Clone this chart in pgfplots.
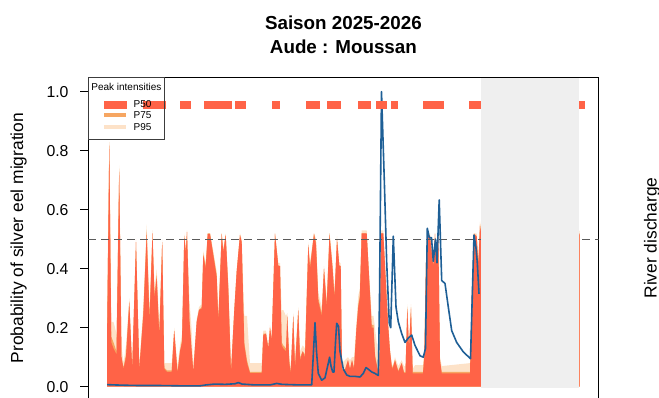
\documentclass[border=0pt]{standalone}
\usepackage{pgfplots}
\pgfplotsset{compat=1.18}
\usepackage{pgfplotstable}
\usepackage{fontspec}
\setmainfont{Liberation Sans}
\definecolor{pfifty}{RGB}{255,99,71}
\definecolor{pseventyfive}{RGB}{246,166,98}
\definecolor{pninetyfive}{RGB}{253,226,200}
\definecolor{disc}{RGB}{30,95,150}
\definecolor{greyzone}{RGB}{239,239,239}
\definecolor{legframe}{RGB}{60,60,60}

\pgfplotstableread{
x p50 p75 p95
107.2 0 0 0
107.2 0.20 0.22 0.30
109.3 0.82 0.83 0.83
111.3 0.15 0.17 0.22
113.5 0.13 0.15 0.22
116.5 0.11 0.12 0.18
119.2 0.73 0.74 0.75
121.5 0.10 0.10 0.14
123.5 0.06 0.065 0.08
126.0 0.10 0.11 0.14
129.3 0.285 0.29 0.30
132.2 0.06 0.06 0.07
136.0 0.49 0.49 0.50
139.3 0.06 0.06 0.07
143.3 0.24 0.25 0.27
146.7 0.52 0.53 0.55
149.5 0.22 0.24 0.26
152.5 0.52 0.52 0.53
154.5 0.30 0.31 0.33
156.7 0.37 0.38 0.40
159.3 0.17 0.18 0.20
162.2 0.49 0.49 0.50
164.3 0.06 0.065 0.08
167.0 0.05 0.055 0.08
171.7 0.05 0.055 0.08
174.2 0.19 0.19 0.20
177.5 0.046 0.05 0.07
180.0 0.12 0.12 0.14
182.0 0.15 0.16 0.18
184.3 0.51 0.51 0.52
185.8 0.45 0.46 0.47
187.0 0.525 0.525 0.53
189.5 0.22 0.23 0.29
191.5 0.13 0.13 0.20
193.3 0.05 0.05 0.07
196.7 0.22 0.22 0.23
199.0 0.26 0.26 0.27
201.7 0.265 0.27 0.28
203.3 0.445 0.45 0.46
205.7 0.40 0.41 0.42
207.7 0.517 0.52 0.52
210.0 0.517 0.52 0.52
213.3 0.445 0.45 0.46
216.7 0.37 0.38 0.39
218.3 0.22 0.23 0.24
221.7 0.517 0.52 0.52
223.3 0.455 0.46 0.47
225.7 0.514 0.515 0.52
228.3 0.33 0.34 0.35
231.0 0.046 0.05 0.06
234.3 0.26 0.26 0.27
236.7 0.39 0.39 0.40
240.0 0.514 0.515 0.52
241.7 0.49 0.49 0.50
244.3 0.14 0.15 0.24
247.0 0.08 0.09 0.24
250.0 0.046 0.05 0.08
261.7 0.046 0.05 0.08
263.3 0.175 0.18 0.19
266.0 0.18 0.18 0.19
268.3 0.13 0.13 0.14
270.0 0.20 0.20 0.21
271.7 0.16 0.16 0.17
275.0 0.517 0.52 0.52
278.3 0.41 0.41 0.42
280.0 0.41 0.41 0.42
281.7 0.14 0.15 0.26
283.3 0.13 0.14 0.26
286.0 0.12 0.13 0.24
287.3 0.24 0.24 0.25
289.3 0.08 0.09 0.10
290.7 0.046 0.05 0.07
293.3 0.24 0.24 0.25
295.0 0.06 0.07 0.10
298.3 0.26 0.26 0.27
300.0 0.09 0.10 0.12
302.7 0.12 0.12 0.14
305.0 0.10 0.11 0.13
308.3 0.48 0.48 0.49
310.0 0.40 0.41 0.42
314.0 0.517 0.52 0.52
316.0 0.48 0.49 0.50
318.3 0.29 0.30 0.32
321.7 0.24 0.25 0.27
324.0 0.40 0.40 0.41
326.7 0.27 0.28 0.30
329.5 0.515 0.52 0.52
332.5 0.40 0.41 0.42
334.5 0.30 0.31 0.33
337.0 0.50 0.50 0.51
339.3 0.41 0.41 0.42
340.7 0.41 0.41 0.42
342.0 0.057 0.06 0.08
345.0 0.057 0.06 0.09
348.0 0.09 0.09 0.10
350.0 0.06 0.06 0.09
352.0 0.09 0.09 0.10
354.0 0.06 0.065 0.10
356.5 0.20 0.20 0.22
358.3 0.27 0.28 0.31
359.8 0.30 0.31 0.33
361.7 0.52 0.52 0.53
366.7 0.52 0.52 0.53
368.0 0.44 0.44 0.45
370.0 0.31 0.32 0.33
371.7 0.20 0.21 0.24
373.5 0.20 0.21 0.24
375.0 0.10 0.11 0.20
377.7 0.057 0.06 0.12
379.3 0.06 0.065 0.08
381.0 0.52 0.52 0.53
383.3 0.52 0.52 0.53
385.0 0.41 0.41 0.42
386.7 0.30 0.30 0.31
388.3 0.20 0.20 0.21
390.0 0.12 0.12 0.13
392.0 0.06 0.065 0.07
393.5 0.07 0.075 0.08
395.0 0.09 0.09 0.10
398.3 0.05 0.055 0.07
401.7 0.08 0.08 0.09
404.0 0.046 0.05 0.07
405.5 0.046 0.05 0.07
407.3 0.265 0.27 0.28
409.0 0.13 0.13 0.14
411.0 0.265 0.27 0.28
412.7 0.045 0.05 0.06
415.0 0.045 0.05 0.073
423.0 0.045 0.05 0.073
424.3 0.10 0.11 0.12
426.0 0.42 0.42 0.43
427.3 0.517 0.52 0.52
430.0 0.51 0.51 0.52
433.3 0.405 0.41 0.42
435.0 0.517 0.52 0.52
436.7 0.42 0.42 0.43
438.3 0.517 0.52 0.52
440.0 0.09 0.09 0.10
441.7 0.045 0.05 0.07
470.0 0.045 0.05 0.08
471.7 0.30 0.30 0.31
474.0 0.517 0.52 0.52
476.7 0.51 0.51 0.52
478.3 0.41 0.42 0.43
480.0 0.545 0.55 0.56
482.0 0.50 0.50 0.52
578.0 0.50 0.50 0.52
579.6 0.52 0.52 0.53
579.6 0 0 0
}\areas

\pgfplotstableread{
x q
107.2 0.007
115 0.006
125 0.005
140 0.004
160 0.004
180 0.003
200 0.003
206 0.006
215 0.009
225 0.008
235 0.010
238.3 0.014
242 0.009
255 0.006
270 0.006
276.7 0.011
282 0.008
300 0.006
311.7 0.006
313.5 0.12
315 0.217
316.5 0.12
318.3 0.045
321.7 0.022
325 0.03
328.3 0.08
329.6 0.10
331 0.07
332.7 0.05
334 0.05
335.5 0.15
336.7 0.215
338.5 0.205
340 0.12
343.3 0.06
346.7 0.04
350 0.035
355 0.035
360 0.033
363.3 0.045
366 0.065
368 0.06
371.7 0.05
375 0.045
378.3 0.038
379.5 0.30
381.5 1.00
384.3 0.70
386.7 0.42
389.3 0.215
390.7 0.20
393.3 0.51
396 0.27
398.3 0.22
401.7 0.18
405 0.15
408.3 0.165
411.7 0.175
415 0.14
420 0.105
423.3 0.10
425.5 0.13
427.3 0.537
429.3 0.505
431.5 0.505
433.3 0.425
435.5 0.50
437 0.42
439.2 0.633
441.7 0.36
445 0.35
448.3 0.27
451.7 0.19
456.7 0.15
463.3 0.118
470.5 0.095
474 0.514
476 0.47
477.3 0.42
479 0.315
}\discharge

\pgfplotstableread{
x y
107.5 0.955
110 0.955
112.5 0.955
115 0.955
117.5 0.955
120 0.955
122.5 0.955
146.8 0.955
149.3 0.955
151.8 0.955
154.3 0.955
156.8 0.955
159.3 0.955
161.5 0.955
183.5 0.955
185.5 0.955
187.2 0.955
207.5 0.955
210 0.955
212.5 0.955
215 0.955
217.5 0.955
220 0.955
222.5 0.955
225 0.955
228.2 0.955
238.5 0.955
240.5 0.955
242.2 0.955
275.5 0.955
309.5 0.955
312 0.955
314 0.955
315.8 0.955
330.8 0.955
333.3 0.955
335.5 0.955
337.2 0.955
361.8 0.955
364.2 0.955
366.5 0.955
379.5 0.955
381.5 0.955
383.2 0.955
394.2 0.955
426.8 0.955
429.3 0.955
431.8 0.955
434.3 0.955
436.8 0.955
439.8 0.955
472.5 0.955
475 0.955
477.5 0.955
480 0.955
580.8 0.955
}\peaks

\begin{document}
\begin{tikzpicture}
\begin{axis}[
  set layers,
  at={(0,0)}, anchor=south west,
  scale only axis, width=510.2bp, height=321.1bp,
  xmin=88.3, xmax=598.5, ymin=-0.0403, ymax=1.0481,
  enlargelimits=false,
  xtick=\empty,
  ytick={0,0.2,0.4,0.6,0.8,1.0},
  ytick pos=left,
  tick align=outside,
  major tick length=8bp,
  tick style={black, line width=0.8bp},
  axis line style={black, line width=0.8bp},
  y tick label style={font=\fontsize{15.8bp}{18bp}\selectfont, xshift=-8.3bp},
  /pgf/number format/fixed,
  /pgf/number format/fixed zerofill,
  /pgf/number format/precision=1,
  /pgf/number format/assume math mode=true,
  title={Saison 2025-2026\\Aude : Moussan},
  title style={font=\bfseries\fontsize{18.8bp}{23.3bp}\selectfont, align=center,
    at={(axis description cs:0.5,1)}, anchor=south, inner sep=0pt, yshift=18bp},
  ylabel={Probability of silver eel migration},
  ylabel style={font=\fontsize{17.4bp}{20bp}\selectfont,
    at={(axis description cs:-0.1368,0.5)}, anchor=center},
  extra description/.code={
    \node[rotate=90, font=\fontsize{17.4bp}{20bp}\selectfont] at (1.1049,0.5) {River discharge};
  },
  legend style={at={(axis description cs:0,1)}, anchor=north west,
    draw=legframe, line width=0.75bp, fill=none,
    inner xsep=2.7bp, inner ysep=6.4bp, row sep=0pt, column sep=0pt,
    font=\fontsize{10bp}{12bp}\selectfont,
    nodes={inner sep=0pt, text height=9.45bp, text depth=2.25bp}},
  legend cell align=left,
]
\addplot[fill=pninetyfive, draw=none, forget plot] table[x=x, y=p95] {\areas} -- cycle;
\addplot[fill=pseventyfive, draw=none, forget plot] table[x=x, y=p75] {\areas} -- cycle;
\addplot[fill=pfifty, draw=none, forget plot] table[x=x, y=p50] {\areas} -- cycle;
\addplot[forget plot, color={rgb,255:red,90;green,90;blue,90}, line width=1bp, dash pattern=on 8bp off 5bp]
  coordinates {(88.3,0.5) (598.5,0.5)};
\addplot[forget plot, color=disc, line width=1.6bp, line join=round] table[x=x, y=q] {\discharge};
\addplot[forget plot, only marks, mark=square*, mark size=3.4bp, color=pfifty, on layer=axis foreground]
  table[x=x, y=y] {\peaks};
\addplot[forget plot, fill=greyzone, draw=none, on layer=axis foreground]
  coordinates {(480.7,-0.003) (480.7,1.046) (579.2,1.046) (579.2,-0.003)} -- cycle;

\addlegendimage{empty legend}
\addlegendentry[text height=6.4bp, text depth=7.15bp]{\hspace{-42.3bp}Peak intensities}
\addlegendimage{legend image code/.code={\path[draw=none, fill=none] (0bp,0bp) rectangle (42.3bp,0bp); \draw[line width=4bp, pfifty] (13bp,0bp) -- (35bp,0bp);}}
\addlegendentry{P50}
\addlegendimage{legend image code/.code={\path[draw=none, fill=none] (0bp,0bp) rectangle (42.3bp,0bp); \draw[line width=4bp, pseventyfive] (13bp,0bp) -- (35bp,0bp);}}
\addlegendentry{P75}
\addlegendimage{legend image code/.code={\path[draw=none, fill=none] (0bp,0bp) rectangle (42.3bp,0bp); \draw[line width=4bp, pninetyfive] (13bp,0bp) -- (35bp,0bp);}}
\addlegendentry{P95}
\end{axis}
\pgfresetboundingbox
\useasboundingbox (-88.3bp,0.6bp) rectangle (570.7bp,398.6bp);
\end{tikzpicture}
\end{document}
